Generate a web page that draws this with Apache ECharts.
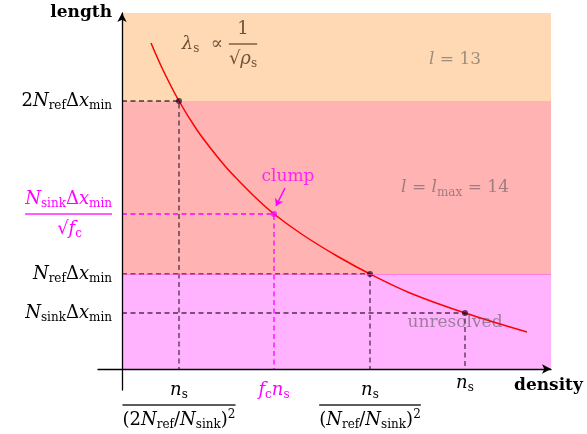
<!DOCTYPE html>
<html>
<head>
<meta charset="utf-8">
<script src="https://cdn.jsdelivr.net/npm/echarts@6/dist/echarts.min.js"></script>
<style>
  html, body { margin: 0; padding: 0; background: #fff; }
  #chart { width: 587px; height: 434px; }
</style>
</head>
<body>
<div id="chart"></div>
<script>
// lambda_s ~ 1/sqrt(rho_s) (arbitrary units)
const curveX = [29, 41, 57, 75, 90, 103, 116, 133, 152, 181, 215, 248, 288, 343, 405];
const curveY = [326, 299, 268, 239, 219, 203, 189, 172, 155, 134, 113, 95, 76, 56, 37];

// refinement bands: unresolved, l = lmax = 14, l = 13
const bandLow = [0, 95, 268];
const bandHigh = [95, 268, 356];
const bandColors = ['#ffb3ff', '#ffb3b3', '#ffd9b3'];

// marked points on the curve (dashed guides down to the axes)
const pointX = [57, 248, 343];
const pointY = [268, 95, 56];
const clumpX = 152;
const clumpY = 155;

const xMin = -24, xMax = 429, yMin = -21, yMax = 356;

// tick positions and labels
const xTicks = [57, 152, 248, 343];
const xTickLabels = [
  '{gap|}\n{m|n}{s|s}\n{hr|}\n{r|(2}{m|N}{s|ref}{r|/}{m|N}{s|sink}{r|)}{u|2}',
  '{gap|}\n{mM|f}{sM|c}{mM|n}{sM|s}',
  '{gap|}\n{m|n}{s|s}\n{hr|}\n{r|(}{m|N}{s|ref}{r|/}{m|N}{s|sink}{r|)}{u|2}',
  '{m|n}{s|s}'
];
const yTicks = [268, 155, 95, 56];
const yTickLabels = [
  '{r|2}{m|N}{s|ref}{r|Δ}{m|x}{s|min}',
  '{mM|N}{sM|sink}{rM|Δ}{mM|x}{sM|min}\n{hrM|}\n{rM|√}{mM|f}{sM|c}{padM|}',
  '{m|N}{s|ref}{r|Δ}{m|x}{s|min}',
  '{m|N}{s|sink}{r|Δ}{m|x}{s|min}'
];

const serif = 'DejaVu Serif';
function mathRich(color, suffix, size) {
  const sub = Math.round(size * 0.68);
  const o = {};
  o['m' + suffix] = { fontFamily: serif, fontStyle: 'italic', fontSize: size, lineHeight: 22, verticalAlign: 'middle', color: color };
  o['r' + suffix] = { fontFamily: serif, fontSize: size, lineHeight: 22, verticalAlign: 'middle', color: color };
  o['s' + suffix] = { fontFamily: serif, fontSize: sub, lineHeight: sub, verticalAlign: 'bottom', color: color };
  o['u' + suffix] = { fontFamily: serif, fontSize: sub, lineHeight: sub, verticalAlign: 'top', color: color };
  o['hr' + suffix] = { width: '100%', height: 0, lineHeight: 8, align: 'left', borderColor: color, borderWidth: 0.8 };
  o['pad' + suffix] = { width: 30, height: 0 };
  return o;
}
const rich = Object.assign(
  { gap: { height: 0, lineHeight: 7 } },
  mathRich('#000', '', 18),
  mathRich('#ff00ff', 'M', 18),
  mathRich('rgba(85,85,85,0.72)', 'G', 17),
  mathRich('#ff00ff', 'C', 17),
  mathRich('#4a3018', 'B', 18)
);

const chart = echarts.init(document.getElementById('chart'));

const guideSeries = pointX.map((x, i) => ({
  type: 'line',
  data: [[0, pointY[i]], [x, pointY[i]], [x, 0]],
  showSymbol: false,
  silent: true,
  z: 2,
  lineStyle: { color: 'rgba(20,0,15,0.75)', width: 1.3, type: [5, 3.5] }
}));

const boldName = { fontFamily: 'DejaVu Serif', fontWeight: 'bold', fontSize: 17, color: '#000' };

const option = {
  animation: false,
  grid: { left: 98, right: 36, top: 13, bottom: 44, outerBoundsMode: 'none' },
  xAxis: {
    type: 'value',
    min: xMin,
    max: xMax,
    z: 10,
    name: '{g|}\n{d|density}',
    nameLocation: 'end',
    nameGap: -37,
    nameTextStyle: {
      align: 'left',
      rich: { g: { height: 0, lineHeight: 34 }, d: Object.assign({ lineHeight: 17 }, boldName) }
    },
    axisLine: {
      onZero: true,
      symbol: ['none', 'arrow'],
      symbolSize: [7, 9],
      lineStyle: { color: '#000', width: 1.3 }
    },
    axisTick: { show: false },
    splitLine: { show: false },
    axisLabel: {
      customValues: xTicks,
      margin: -18,
      verticalAlign: 'top',
      rich: rich,
      formatter: (v) => xTickLabels[xTicks.indexOf(v)] || ''
    }
  },
  yAxis: {
    type: 'value',
    min: yMin,
    max: yMax,
    z: 10,
    name: 'length',
    nameLocation: 'end',
    nameGap: 0,
    nameTextStyle: Object.assign({ align: 'right', verticalAlign: 'middle', padding: [0, 10, 0, 0] }, boldName),
    axisLine: {
      onZero: true,
      symbol: ['none', 'arrow'],
      symbolSize: [7, 9],
      lineStyle: { color: '#000', width: 1.3 }
    },
    axisTick: { show: false },
    splitLine: { show: false },
    axisLabel: {
      customValues: yTicks,
      margin: -14,
      rich: rich,
      formatter: (v) => yTickLabels[yTicks.indexOf(v)] || ''
    }
  },
  series: [
    {
      // background bands
      type: 'line',
      data: [],
      silent: true,
      z: 0,
      markArea: {
        silent: true,
        itemStyle: { opacity: 1, borderWidth: 0 },
        data: bandLow.map((lo, i) => [
          { coord: [0, lo], itemStyle: { color: bandColors[i] } },
          { coord: [xMax, bandHigh[i]] }
        ])
      },
      markLine: {
        silent: true,
        symbol: ['none', 'none'],
        label: { show: false },
        lineStyle: { color: 'rgba(255,90,190,0.6)', width: 1, type: 'solid' },
        data: [[{ coord: [0, bandLow[1]] }, { coord: [xMax, bandLow[1]] }]]
      }
    },
    ...guideSeries,
    {
      // clump guides
      type: 'line',
      data: [[0, clumpY], [clumpX, clumpY], [clumpX, 0]],
      showSymbol: false,
      silent: true,
      z: 2,
      lineStyle: { color: '#ff00ff', width: 1.3, type: [5, 3.5] }
    },
    {
      type: 'line',
      data: curveX.map((x, i) => [x, curveY[i]]),
      smooth: 0.35,
      showSymbol: false,
      silent: true,
      z: 3,
      lineStyle: { color: '#ff0000', width: 1.5 }
    },
    {
      type: 'scatter',
      data: pointX.map((x, i) => [x, pointY[i]]),
      symbolSize: 6,
      silent: true,
      z: 4,
      itemStyle: { color: 'rgba(40,0,30,0.85)' }
    },
    {
      type: 'scatter',
      data: [[clumpX, clumpY]],
      symbolSize: 6,
      silent: true,
      z: 4,
      itemStyle: { color: '#ff00ff' },
      markLine: {
        silent: true,
        symbol: ['none', 'arrow'],
        symbolSize: 7,
        label: { show: false },
        lineStyle: { color: '#ff00ff', width: 1.5, type: 'solid' },
        data: [[{ coord: [163, 181] }, { coord: [154, 163] }]]
      }
    },
    {
      // annotations
      type: 'scatter',
      symbolSize: 0,
      silent: true,
      z: 5,
      label: { show: true, position: 'inside', align: 'center', verticalAlign: 'middle', rich: rich },
      data: [
        { value: [333, 309], label: { formatter: '{mG|l}{rG| = 13}' } },
        { value: [333, 181], label: { formatter: '{mG|l}{rG| = }{mG|l}{sG|max}{rG| = 14}' } },
        { value: [333, 46], label: { formatter: '{rG|unresolved}' } },
        { value: [166, 192], label: { formatter: '{rC|clump}' } },
        { value: [101, 325], label: { formatter: '{mB|λ}{sB|s}{rB|  ∝}', align: 'right' } },
        { value: [121, 325], label: { formatter: '{rB|1}\n{hrB|}\n{rB|√}{mB|ρ}{sB|s}' } }
      ]
    }
  ]
};

chart.setOption(option);
</script>
</body>
</html>
